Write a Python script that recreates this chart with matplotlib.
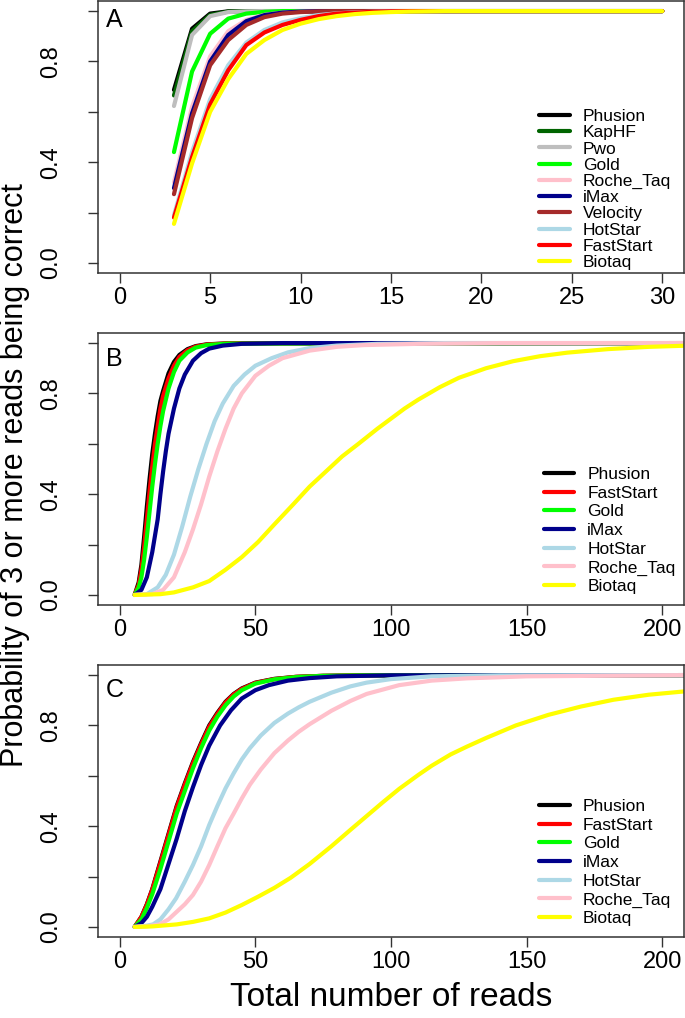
import numpy as np
import matplotlib
matplotlib.use("Agg")
import matplotlib.pyplot as plt

plt.rcParams['font.family'] = ['Liberation Sans', 'DejaVu Sans']

# ---- Panel A: number of reads 3..30 ----
a_reads = [3, 4, 5, 6, 7, 8, 9, 10, 11, 12, 13, 14, 15, 16, 17, 18, 30]
a_phusion = [0.687, 0.93, 0.99, 0.999, 1, 1, 1, 1, 1, 1, 1, 1, 1, 1, 1, 1, 1]
a_kaphf = [0.665, 0.92, 0.985, 0.998, 1, 1, 1, 1, 1, 1, 1, 1, 1, 1, 1, 1, 1]
a_pwo = [0.623, 0.905, 0.98, 0.996, 0.999, 1, 1, 1, 1, 1, 1, 1, 1, 1, 1, 1, 1]
a_gold = [0.44, 0.76, 0.91, 0.97, 0.99, 0.997, 1, 1, 1, 1, 1, 1, 1, 1, 1, 1, 1]
a_roche = [0.32, 0.62, 0.82, 0.92, 0.965, 0.985, 0.994, 0.998, 1, 1, 1, 1, 1, 1, 1, 1, 1]
a_imax = [0.297, 0.594, 0.80, 0.905, 0.96, 0.984, 0.994, 0.998, 1, 1, 1, 1, 1, 1, 1, 1, 1]
a_velocity = [0.273, 0.575, 0.785, 0.885, 0.945, 0.976, 0.99, 0.996, 0.999, 1, 1, 1, 1, 1, 1, 1, 1]
a_hotstar = [0.19, 0.44, 0.65, 0.785, 0.875, 0.925, 0.955, 0.972, 0.984, 0.991, 0.995, 0.997, 0.999, 1, 1, 1, 1]
a_faststart = [0.18, 0.42, 0.63, 0.765, 0.865, 0.915, 0.945, 0.965, 0.98, 0.99, 0.994, 0.997, 0.999, 1, 1, 1, 1]
a_biotaq = [0.155, 0.395, 0.60, 0.73, 0.83, 0.885, 0.925, 0.95, 0.968, 0.98, 0.988, 0.993, 0.996, 0.998, 0.999, 1, 1]

# ---- Panel B ----
b_fast_x = [5.5, 7, 8, 9, 10, 11, 12, 13, 14, 15, 16, 18, 20, 22, 25, 28, 32, 40, 210]
b_phusion_y = [0, 0.05, 0.12, 0.23, 0.35, 0.46, 0.56, 0.64, 0.71, 0.77, 0.81, 0.88, 0.925, 0.953, 0.976, 0.988, 0.995, 0.999, 1]
b_faststart_y = [0, 0.04, 0.10, 0.19, 0.30, 0.41, 0.51, 0.60, 0.67, 0.74, 0.79, 0.86, 0.91, 0.945, 0.972, 0.986, 0.994, 0.999, 1]
b_gold_y = [0, 0.03, 0.07, 0.14, 0.23, 0.33, 0.43, 0.52, 0.60, 0.67, 0.73, 0.82, 0.885, 0.93, 0.963, 0.982, 0.992, 0.998, 1]
b_imax_x = [5.5, 8, 10, 12, 14, 15, 16, 17, 18, 20, 22, 24, 27, 30, 33, 38, 45, 60, 210]
b_imax_y = [0, 0.02, 0.07, 0.17, 0.30, 0.40, 0.49, 0.57, 0.64, 0.74, 0.82, 0.875, 0.93, 0.96, 0.978, 0.99, 0.997, 1, 1]
b_hotstar_x = [5.5, 10, 14, 17, 20, 23, 26, 29, 32, 35, 38, 42, 46, 50, 56, 62, 70, 80, 95, 120, 210]
b_hotstar_y = [0, 0.003, 0.03, 0.08, 0.16, 0.27, 0.39, 0.50, 0.60, 0.69, 0.76, 0.83, 0.875, 0.91, 0.94, 0.963, 0.98, 0.99, 0.997, 1, 1]
b_roche_x = [5.5, 12, 16, 20, 24, 27, 30, 33, 36, 39, 42, 45, 50, 55, 60, 70, 80, 90, 110, 140, 210]
b_roche_y = [0, 0.003, 0.02, 0.07, 0.17, 0.26, 0.36, 0.47, 0.57, 0.66, 0.74, 0.80, 0.87, 0.91, 0.94, 0.97, 0.985, 0.992, 0.997, 1, 1]
b_biotaq_x = [5.5, 15, 20, 27, 33, 39, 45, 51, 57, 64, 70, 76, 82, 88, 95, 100, 105, 110, 118, 125, 135, 145, 155, 165, 180, 195, 210]
b_biotaq_y = [0, 0.003, 0.01, 0.03, 0.055, 0.10, 0.15, 0.21, 0.28, 0.36, 0.43, 0.49, 0.55, 0.60, 0.66, 0.70, 0.74, 0.775, 0.825, 0.862, 0.9, 0.928, 0.948, 0.962, 0.976, 0.985, 0.99]

# ---- Panel C ----
c_fast_x = [5.5, 8, 10, 12, 15, 18, 21, 24, 27, 30, 33, 36, 39, 42, 45, 50, 57, 65, 75, 90, 210]
c_phusion_y = [0, 0.04, 0.09, 0.15, 0.26, 0.37, 0.48, 0.57, 0.655, 0.73, 0.80, 0.85, 0.894, 0.925, 0.947, 0.97, 0.985, 0.993, 0.997, 0.999, 1]
c_faststart_y = [0, 0.04, 0.088, 0.148, 0.255, 0.365, 0.475, 0.565, 0.65, 0.725, 0.795, 0.846, 0.891, 0.923, 0.945, 0.969, 0.984, 0.993, 0.997, 0.999, 1]
c_gold_y = [0, 0.03, 0.075, 0.13, 0.23, 0.34, 0.45, 0.54, 0.63, 0.71, 0.78, 0.835, 0.88, 0.915, 0.94, 0.966, 0.983, 0.992, 0.997, 0.999, 1]
c_imax_x = [5.5, 8, 10, 12, 15, 18, 21, 24, 27, 30, 33, 37, 41, 45, 50, 55, 62, 70, 80, 100, 210]
c_imax_y = [0, 0.015, 0.04, 0.08, 0.15, 0.25, 0.35, 0.46, 0.555, 0.643, 0.72, 0.80, 0.86, 0.907, 0.94, 0.96, 0.978, 0.988, 0.995, 0.999, 1]
c_hotstar_x = [5.5, 10, 12.3, 15, 18, 20.8, 24, 27, 30, 33, 36, 39, 42, 45, 48, 52, 57, 62, 66, 70, 78, 85, 91, 100, 115, 140, 210]
c_hotstar_y = [0, 0.005, 0.01, 0.03, 0.07, 0.114, 0.18, 0.246, 0.32, 0.405, 0.48, 0.55, 0.61, 0.665, 0.71, 0.76, 0.81, 0.847, 0.872, 0.894, 0.93, 0.955, 0.97, 0.984, 0.995, 0.999, 1]
c_roche_x = [5.5, 10, 14.7, 18, 21, 24, 27, 30, 33, 36, 39, 42, 45, 48, 52, 57, 62, 66, 70, 78, 85, 91, 103, 115, 128, 150, 210]
c_roche_y = [0, 0.002, 0.01, 0.03, 0.06, 0.09, 0.127, 0.18, 0.246, 0.32, 0.392, 0.45, 0.51, 0.565, 0.625, 0.69, 0.74, 0.775, 0.805, 0.858, 0.897, 0.925, 0.96, 0.978, 0.987, 0.995, 1]
c_biotaq_x = [5.5, 12, 21, 27, 33, 39, 45, 51, 57, 63, 70, 78, 85, 91, 97, 103, 110, 115, 122, 128, 135, 146, 158, 170, 182, 195, 207, 210]
c_biotaq_y = [0, 0.002, 0.01, 0.02, 0.034, 0.057, 0.087, 0.12, 0.155, 0.195, 0.25, 0.32, 0.385, 0.44, 0.495, 0.548, 0.603, 0.64, 0.685, 0.716, 0.75, 0.80, 0.842, 0.875, 0.902, 0.922, 0.934, 0.937]

colors = {
    "Phusion": "black", "KapHF": "#006400", "Pwo": "#BEBEBE", "Gold": "#00FF00",
    "Roche_Taq": "#FFC0CB", "iMax": "#00008B", "Velocity": "#A52A2A",
    "HotStar": "#ADD8E6", "FastStart": "red", "Biotaq": "yellow",
}

panel_a = [("Phusion", a_reads, a_phusion), ("KapHF", a_reads, a_kaphf),
           ("Pwo", a_reads, a_pwo), ("Gold", a_reads, a_gold),
           ("Roche_Taq", a_reads, a_roche), ("iMax", a_reads, a_imax),
           ("Velocity", a_reads, a_velocity), ("HotStar", a_reads, a_hotstar),
           ("FastStart", a_reads, a_faststart), ("Biotaq", a_reads, a_biotaq)]
panel_b = [("Phusion", b_fast_x, b_phusion_y), ("FastStart", b_fast_x, b_faststart_y),
           ("Gold", b_fast_x, b_gold_y), ("iMax", b_imax_x, b_imax_y),
           ("HotStar", b_hotstar_x, b_hotstar_y), ("Roche_Taq", b_roche_x, b_roche_y),
           ("Biotaq", b_biotaq_x, b_biotaq_y)]
panel_c = [("Phusion", c_fast_x, c_phusion_y), ("FastStart", c_fast_x, c_faststart_y),
           ("Gold", c_fast_x, c_gold_y), ("iMax", c_imax_x, c_imax_y),
           ("HotStar", c_hotstar_x, c_hotstar_y), ("Roche_Taq", c_roche_x, c_roche_y),
           ("Biotaq", c_biotaq_x, c_biotaq_y)]

W, H = 685, 1018
fig = plt.figure(figsize=(W / 100, H / 100), dpi=100)


def add_axes(top_px, bottom_px):
    left, right = 98, 684
    return fig.add_axes([left / W, 1 - bottom_px / H, (right - left) / W, (bottom_px - top_px) / H])


def style(ax, xmax, xticks, letter, letter_y, leg_anchor, spacing):
    ax.set_xlim(-0.04 * xmax, 1.04 * xmax)
    ax.set_ylim(-0.04, 1.04)
    ax.set_xticks(xticks)
    ax.set_xticklabels([str(t) for t in xticks], fontsize=17)
    ax.set_yticks([0, 0.2, 0.4, 0.6, 0.8, 1.0])
    ax.set_yticklabels(["0.0", "", "0.4", "", "0.8", ""], fontsize=17, rotation=90, va="center")
    ax.tick_params(axis="x", length=7, width=1, pad=3, color="#333333")
    ax.tick_params(axis="y", length=7, width=1, pad=19, color="#333333")
    for s in ax.spines.values():
        s.set_linewidth(1.1)
        s.set_color("#333333")
    ax.text(0.013, letter_y, letter, transform=ax.transAxes, fontsize=18, ha="left", va="baseline")
    ax.legend(loc="upper left", bbox_to_anchor=leg_anchor, frameon=False, borderpad=0,
              borderaxespad=0, fontsize=12.5, handlelength=1.75, handletextpad=0.75,
              labelspacing=spacing)


def draw(ax, series):
    for name, xs, ys in series:
        ax.plot(xs, ys, color=colors[name], lw=3, solid_capstyle="round", label=name)


ax_a = add_axes(1, 273)
draw(ax_a, panel_a)
style(ax_a, 30, [0, 5, 10, 15, 20, 25, 30], "A", 0.905, (0.753, 0.603), 0.06)

ax_b = add_axes(333, 605)
draw(ax_b, panel_b)
style(ax_b, 200, [0, 50, 100, 150, 200], "B", 0.879, (0.761, 0.507), 0.2)

ax_c = add_axes(665, 937)
draw(ax_c, panel_c)
style(ax_c, 200, [0, 50, 100, 150, 200], "C", 0.882, (0.753, 0.507), 0.2)

fig.text(15 / W, 1 - 475 / H, "Probability of 3 or more reads being correct",
         rotation=90, ha="center", va="center", fontsize=22)
fig.text(391 / W, 1 - 997 / H, "Total number of reads", ha="center", va="center", fontsize=24)

fig.savefig("out.png", dpi=100)
